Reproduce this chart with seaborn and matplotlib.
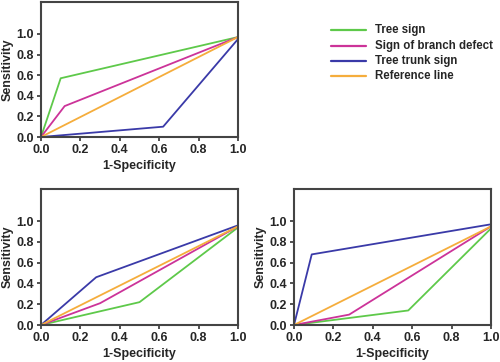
import pandas as pd
import matplotlib.pyplot as plt
import seaborn as sns

# ROC curve points, one list per series per panel
series = ['Tree sign', 'Sign of branch defect', 'Tree trunk sign', 'Reference line']
colors = ['#5ec94a', '#cc3399', '#3a3aa8', '#f5ad3c']

# panel 1 (top left)
p1_tree_x = [0.0, 0.10, 1.0]
p1_tree_y = [0.0, 0.57, 0.97]
p1_branch_x = [0.0, 0.12, 1.0]
p1_branch_y = [0.0, 0.30, 0.97]
p1_trunk_x = [0.0, 0.62, 1.0]
p1_trunk_y = [0.0, 0.10, 0.95]
p1_ref_x = [0.0, 1.0]
p1_ref_y = [0.0, 0.97]

# panel 2 (bottom left)
p2_tree_x = [0.0, 0.50, 1.0]
p2_tree_y = [0.0, 0.22, 0.94]
p2_branch_x = [0.0, 0.30, 1.0]
p2_branch_y = [0.0, 0.21, 0.95]
p2_trunk_x = [0.0, 0.28, 1.0]
p2_trunk_y = [0.0, 0.46, 0.96]
p2_ref_x = [0.0, 1.0]
p2_ref_y = [0.0, 0.95]

# panel 3 (bottom right)
p3_tree_x = [0.0, 0.58, 1.0]
p3_tree_y = [0.0, 0.14, 0.93]
p3_branch_x = [0.0, 0.28, 1.0]
p3_branch_y = [0.0, 0.10, 0.95]
p3_trunk_x = [0.0, 0.09, 1.0]
p3_trunk_y = [0.0, 0.68, 0.97]
p3_ref_x = [0.0, 1.0]
p3_ref_y = [0.0, 0.95]

ticks = [0.0, 0.2, 0.4, 0.6, 0.8, 1.0]
tick_labels = ['0.0', '0.2', '0.4', '0.6', '0.8', '1.0']


def make_df(parts):
    rows = []
    for name, xs, ys in parts:
        for x, y in zip(xs, ys):
            rows.append({'series': name, 'x': x, 'y': y})
    return pd.DataFrame(rows)


panels = [
    make_df([(series[0], p1_tree_x, p1_tree_y), (series[1], p1_branch_x, p1_branch_y),
             (series[2], p1_trunk_x, p1_trunk_y), (series[3], p1_ref_x, p1_ref_y)]),
    make_df([(series[0], p2_tree_x, p2_tree_y), (series[1], p2_branch_x, p2_branch_y),
             (series[2], p2_trunk_x, p2_trunk_y), (series[3], p2_ref_x, p2_ref_y)]),
    make_df([(series[0], p3_tree_x, p3_tree_y), (series[1], p3_branch_x, p3_branch_y),
             (series[2], p3_trunk_x, p3_trunk_y), (series[3], p3_ref_x, p3_ref_y)]),
]

sns.set_style('ticks')
plt.rcParams['font.family'] = ['Liberation Sans', 'DejaVu Sans']
plt.rcParams['font.weight'] = 'bold'

W, H = 500, 362
fig = plt.figure(figsize=(5.0, 3.62), dpi=100)

# axes boxes in pixels: left, top, right, bottom
boxes = [(41, 2, 238, 137), (41, 189, 238, 325), (294, 189, 491, 325)]
palette = dict(zip(series, colors))

for (l, t, r, b), df in zip(boxes, panels):
    ax = fig.add_axes([l / W, 1 - b / H, (r - l) / W, (b - t) / H])
    sns.lineplot(data=df, x='x', y='y', hue='series', palette=palette,
                 sort=False, estimator=None, linewidth=1.3, legend=False, ax=ax)
    ax.set_xlim(0, 1.0)
    ax.set_ylim(0, 1.31)
    ax.set_xticks(ticks)
    ax.set_xticklabels(tick_labels)
    ax.set_yticks(ticks)
    ax.set_yticklabels(tick_labels)
    ax.tick_params(labelsize=9, length=3, width=1.2, color='#333333', pad=2)
    for lab in ax.get_xticklabels() + ax.get_yticklabels():
        lab.set_fontweight('bold')
    ax.set_xlabel('1-Specificity', fontsize=9, fontweight='bold', labelpad=3)
    ax.set_ylabel('Sensitivity', fontsize=9, fontweight='bold', labelpad=2)
    for s in ax.spines.values():
        s.set_visible(True)
        s.set_color('#444444')
        s.set_linewidth(1.5)

# legend drawn as a free-standing block in the top right
lax = fig.add_axes([0, 0, 1, 1])
lax.set_xlim(0, W)
lax.set_ylim(H, 0)
lax.axis('off')
legend_rows = [30, 46, 61, 76]
for name, c, yy in zip(series, colors, legend_rows):
    lax.plot([331, 366], [yy, yy], color=c, linewidth=1.6)
    lax.text(375, yy, name, fontsize=8.3, fontweight='bold', va='center', ha='left')

fig.savefig('out.png', dpi=100)
